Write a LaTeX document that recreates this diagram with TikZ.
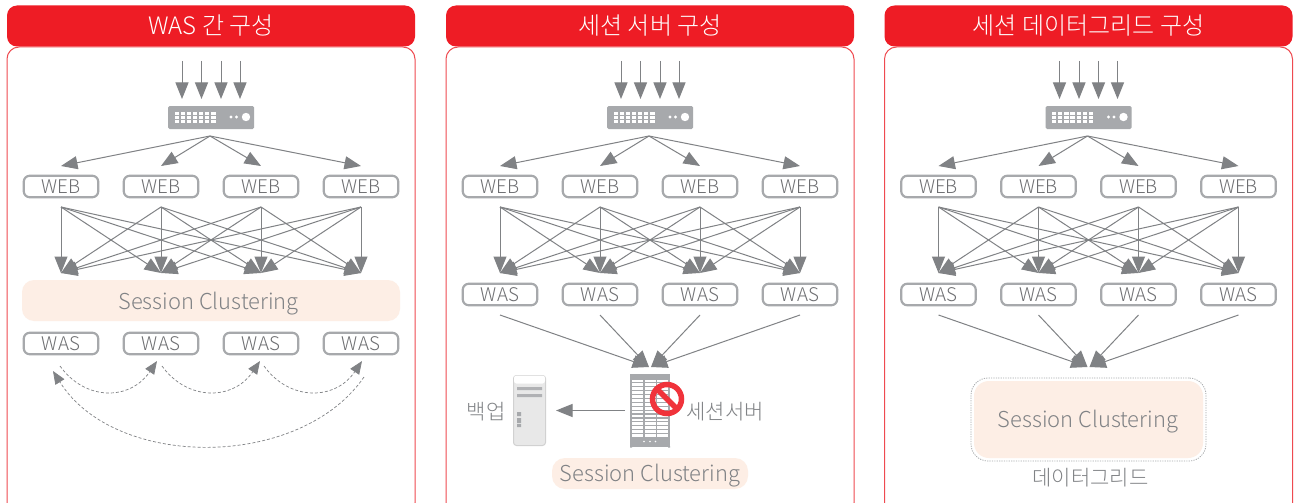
\documentclass[tikz,border=0pt]{standalone}
\usepackage{fontspec}
\setmainfont{Noto Sans CJK KR Light}
\usetikzlibrary{arrows.meta}
\definecolor{hdr}{HTML}{EE1C25}
\definecolor{edge}{HTML}{EF4A50}
\definecolor{gline}{HTML}{808285}
\definecolor{gbox}{HTML}{A7A9AC}
\definecolor{gtxt}{HTML}{6D6E71}
\definecolor{peach}{HTML}{FDEEE5}
\tikzset{
  x=1pt,y=-1pt,
  arrowline/.style={draw=gline,line width=1pt,-{Triangle[length=16.5pt,width=13pt]}},
  dashline/.style={draw=gline,line width=0.7pt,dash pattern=on 3pt off 2pt,-{Triangle[length=13pt,width=10.5pt]}},
  srvbox/.style={draw=gbox,line width=2.2pt,fill=white,rounded corners=6pt,minimum width=74.5pt,minimum height=21.5pt,inner sep=0pt,text=gtxt,font=\fontsize{18.8}{20}\selectfont},
  header/.style={fill=hdr,rounded corners=10pt,minimum width=408pt,minimum height=41pt,inner sep=0pt,text=white,font=\fontsize{24}{26}\selectfont},
  peachbox/.style={fill=peach,inner sep=0pt},
  sclabel/.style={inner sep=0pt,text=gline,font=\fontsize{21.9}{24}\selectfont},
  caption/.style={inner sep=0pt,text=gline,font=\fontsize{21}{24}\selectfont},
}
% #1 title, #2 y of lower-row boxes (WAS)
\newcommand{\panelbase}[2]{%
  \draw[edge,line width=1pt,rounded corners=12pt] (7,47) rectangle (415,515);
  \node[header] (head) at (211,26) {#1};
  % router
  \node[fill=gbox,rounded corners=1.5pt,minimum width=86pt,minimum height=23pt,inner sep=0pt] (router) at (211,117.5) {};
  \foreach \cx in {0,...,6}{\foreach \cy in {0,1,2}{\fill[white] (174.5+\cx*6.15,112+\cy*4.2) rectangle +(4.2,2.8);}}
  \fill[white] (231,117) circle[radius=1.7pt] (236.5,117) circle[radius=1.7pt] (246,117) circle[radius=4.2pt];
  \foreach \i/\xx in {1/182,2/201.5,3/221,4/240}{
    \coordinate (in\i) at (\xx,61);
    \coordinate (inend\i) at (\xx,99);
    \draw[arrowline] (in\i) -- (inend\i);
  }
  \coordinate (fan) at (210,136);
  \foreach \i/\xx in {1/61,2/161,3/261,4/361}{
    \coordinate (fe\i) at (\xx,166);
    \draw[arrowline] (fan) -- (fe\i);
    \node[srvbox] (web\i) at (\xx,186.5) {WEB};
    \node[srvbox] (was\i) at (\xx,#2) {WAS};
    \coordinate (s\i) at (\xx,207);
    \coordinate (t\i) at (\xx,273);
    \coordinate (o\i) at (\xx,315);
  }
  \foreach \i in {1,...,4}{\foreach \j in {1,...,4}{
    \draw[arrowline] (s\i) -- (t\j);
  }}
}
\newcommand{\funnel}{%
  \coordinate (ca) at (210,367);
  \coordinate (cb) at (212,367);
  \foreach \i/\tt in {1/ca,2/ca,3/cb,4/cb}{
    \draw[arrowline] (o\i) -- (\tt);
  }
}
\begin{document}
\begin{tikzpicture}
\useasboundingbox (0,0) rectangle (1294,503);
\clip (0,0) rectangle (1294,503);
\fill[white] (0,0) rectangle (1294,503);
% ---------- panel 1
\begin{scope}[name prefix=a-]
  \panelbase{WAS 간 구성}{343.5}
  \node[peachbox,rounded corners=12pt,minimum width=378pt,minimum height=41pt] (sc) at (211,300.5) {};
  \node[sclabel] (sctext) at (208.5,303.5) {Session Clustering};
  \coordinate (d1s) at (60,366);   \coordinate (d1e) at (157,361);
  \coordinate (d2s) at (162,366);  \coordinate (d2e) at (260,361);
  \coordinate (d3s) at (264,366);  \coordinate (d3e) at (362,361);
  \coordinate (d4s) at (364,377);  \coordinate (d4e) at (53,371);
  \draw[dashline] (d1s) .. controls (85,401) and (130,401) .. (d1e);
  \draw[dashline] (d2s) .. controls (187,401) and (233,401) .. (d2e);
  \draw[dashline] (d3s) .. controls (289,401) and (335,401) .. (d3e);
  \draw[dashline] (d4s) .. controls (300,470) and (115,470) .. (d4e);
\end{scope}
% ---------- panel 2
\begin{scope}[name prefix=b-,xshift=439pt]
  \panelbase{세션 서버 구성}{294.5}
  \funnel
  % rack
  \node[fill=gbox,minimum width=40pt,minimum height=73pt,inner sep=0pt] (rack) at (211,410) {};
  \foreach \cc in {193,205.5,218}{
    \foreach \r in {0,...,14}{\fill[white] (\cc,379.5+\r*3.9) rectangle +(11,2.7);}
  }
  \fill[white] (205,441.5) circle[radius=.8pt] (211,441.5) circle[radius=.8pt] (216.5,441.5) circle[radius=.8pt];
  \fill[gbox] (191,446) rectangle +(2,1.5) (229,446) rectangle +(2,1.5);
  % tower
  \node[draw=black!18,line width=1pt,fill=black!9,rounded corners=3pt,minimum width=32pt,minimum height=70pt,inner sep=0pt] (tower) at (90.5,410.5) {};
  \fill[white,rounded corners=2.5pt] (75,375.5) rectangle (106,383.5);
  \fill[gbox!90] (78,387) rectangle (103,390) (78,394) rectangle (103,397);
  \fill[gbox] (78,412) rectangle +(4,4) (78,418) rectangle +(4,5) (78,424) rectangle +(4,3);
  % no-entry sign
  \coordinate (no) at (228,399);
  \draw[draw=hdr!90!white,line width=5.5pt] (no) circle[radius=14.5pt];
  \draw[draw=hdr!90!white,line width=5.5pt] (218,389) -- (238,409);
  \coordinate (backs) at (186,410.5);
  \coordinate (backe) at (117,410.5);
  \draw[arrowline] (backs) -- (backe);
  \node[caption] (backup) at (47,411.5) {백업};
  \node[caption] (sess) at (286,411.5) {세션서버};
  \node[peachbox,rounded corners=13pt,minimum width=196pt,minimum height=31pt] (sc) at (211,473.5) {};
  \node[sclabel] (sctext) at (211,475.5) {Session Clustering};
\end{scope}
% ---------- panel 3
\begin{scope}[name prefix=c-,xshift=877.5pt]
  \panelbase{세션 데이터그리드 구성}{294.5}
  \funnel
  \node[draw=gbox,line width=.8pt,dash pattern=on 1.2pt off 1.2pt,rounded corners=17pt,minimum width=235pt,minimum height=83pt,inner sep=0pt] (grid) at (211,419.5) {};
  \node[peachbox,rounded corners=15pt,minimum width=229pt,minimum height=77pt] (sc) at (211,419.5) {};
  \node[sclabel] (sctext) at (210.5,422) {Session Clustering};
  \node[caption] (gridlabel) at (213,478) {데이터그리드};
\end{scope}
\end{tikzpicture}
\end{document}
